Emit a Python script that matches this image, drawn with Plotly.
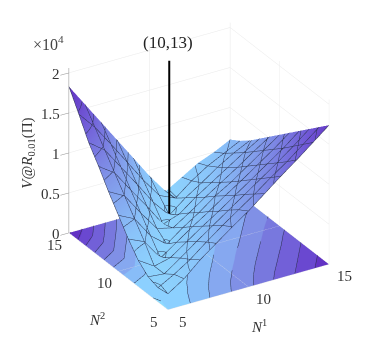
import plotly.graph_objects as go

N1 = [5, 6, 7, 8, 9, 10, 11, 12, 13, 14, 15]
N2 = [5, 6, 7, 8, 9, 10, 11, 12, 13, 14, 15]
# V@R in units of 1e4; rows follow N2, columns follow N1
V_BY_N1 = [
    [.20, .18, .22, .33, .50, .70, .90, 1.12, 1.32, 1.58, 1.83],
    [.33, .29, .20, .20, .41, .60, .79, .98, 1.17, 1.36, 1.55],
    [.51, .42, .34, .25, .15, .33, .52, .71, .90, 1.09, 1.27],
    [.66, .58, .49, .39, .29, .17, .27, .45, .63, .81, .99],
    [.81, .73, .63, .53, .43, .32, .22, .17, .35, .53, .71],
    [.95, .87, .77, .66, .56, .45, .35, .24, .13, .28, .43],
    [1.11, 1.01, .91, .80, .70, .60, .49, .39, .29, .19, .18],
    [1.27, 1.16, 1.05, .94, .83, .72, .62, .52, .42, .35, .30],
    [1.42, 1.30, 1.19, 1.08, .97, .86, .75, .65, .56, .48, .42],
    [1.58, 1.46, 1.34, 1.22, 1.11, 1.00, .89, .78, .68, .58, .50],
    [1.74, 1.62, 1.50, 1.38, 1.26, 1.14, 1.02, .90, .78, .68, .60],
]
V = [[V_BY_N1[i][j] for i in range(11)] for j in range(11)]
LEVELS = [.2, .4, .6, .8, 1.0, 1.2, 1.4, 1.6, 1.8]
BAND_COLORS = ["#8fdcff", "#8cd0ff", "#88bdf8", "#86a8f0", "#8090e6", "#7878de", "#7260d8", "#6a48d0", "#6232c4", "#5a1cb8"]
Z_TICKS = [0, .5, 1, 1.5, 2]
Z_LABELS = ["0", "0.5", "1", "1.5", "2"]
N_TICKS = [5, 10, 15]
OPT_N1, OPT_N2, OPT_Z, LINE_TOP = 10, 13, .13, 2.06
FONT = "Liberation Serif"

smooth = [[0, "#8fdcff"], [.25, "#8ac4fa"], [.5, "#8094e8"], [.75, "#7058d6"], [1, "#5c1fb8"]]
steps = []
edges = [0] + LEVELS + [2]
for k, c in enumerate(BAND_COLORS):
    steps += [[edges[k] / 2, c], [edges[k + 1] / 2, c]]


def contour_segments(level):
    xs, ys = [], []
    for j in range(10):
        for i in range(10):
            cell = [(N1[i], N2[j], V[j][i]), (N1[i + 1], N2[j], V[j][i + 1]),
                    (N1[i + 1], N2[j + 1], V[j + 1][i + 1]), (N1[i], N2[j + 1], V[j + 1][i])]
            pts = []
            for a, b in zip(cell, cell[1:] + cell[:1]):
                if (a[2] - level) * (b[2] - level) < 0:
                    t = (level - a[2]) / (b[2] - a[2])
                    pts.append((a[0] + t * (b[0] - a[0]), a[1] + t * (b[1] - a[1])))
            if len(pts) >= 2:
                xs += [pts[0][0], pts[1][0], None]
                ys += [pts[0][1], pts[1][1], None]
            if len(pts) == 4:
                xs += [pts[2][0], pts[3][0], None]
                ys += [pts[2][1], pts[3][1], None]
    return xs, ys


flat = dict(ambient=1, diffuse=0, specular=0, roughness=1, fresnel=0)
fig = go.Figure()
fig.add_surface(x=N1, y=N2, z=[[0] * 11 for _ in range(11)], surfacecolor=V, cmin=0, cmax=2,
                colorscale=steps, showscale=False, lighting=flat, hoverinfo="skip")
fig.add_surface(x=N1, y=N2, z=V, cmin=0, cmax=2, colorscale=smooth, showscale=False, lighting=flat,
                contours=dict(x=dict(show=True, start=5, end=15, size=1, color="#2c3350", width=1),
                              y=dict(show=True, start=5, end=15, size=1, color="#2c3350", width=1),
                              z=dict(show=True, start=.2, end=1.8, size=.2, color="#2c3350", width=1)))
cx, cy = [], []
for lv in LEVELS:
    a, b = contour_segments(lv)
    cx += a
    cy += b
fig.add_scatter3d(x=cx, y=cy, z=[0.004 if v is not None else None for v in cx], mode="lines",
                  line=dict(color="#2c3350", width=1), showlegend=False, hoverinfo="skip")
fig.add_scatter3d(x=[OPT_N1, OPT_N1], y=[OPT_N2, OPT_N2], z=[OPT_Z, LINE_TOP], mode="lines",
                  line=dict(color="black", width=4), showlegend=False, hoverinfo="skip")


def label(x, y, z, text, dx, dy, size=15, angle=0, color="#333"):
    return dict(x=x, y=y, z=z, text=text, showarrow=False, xshift=dx, yshift=-dy, textangle=angle,
                font=dict(family=FONT, size=size, color=color))


notes = []
for tv, lab in zip(Z_TICKS, Z_LABELS):
    notes.append(dict(label(5, 15, tv, lab, -7, 1), xanchor="right"))
for tv in N_TICKS:
    notes.append(label(tv, 5, 0, str(tv), 15, 12))
    notes.append(label(5, tv, 0, str(tv), -14, 12))
notes.append(label(10, 5, 0, "<i>N</i><sup>1</sup>", 11, 39, 15))
notes.append(label(5, 10, 0, "<i>N</i><sup>2</sup>", -21, 48, 15))
notes.append(label(5, 15, 1, "<i>V</i>@<i>R</i><sub>0.01</sub>(Π)", -41, 0, 15, -90))
notes.append(label(OPT_N1, OPT_N2, LINE_TOP, "(10,13)", -1, -18, 17, 0, "#222"))

common = dict(showbackground=False, gridcolor="#e8e8e8", gridwidth=1, zeroline=False, showspikes=False,
              showticklabels=False, ticks="", showline=False, title=dict(text=""))
fig.update_layout(
    width=382, height=344, margin=dict(l=0, r=0, t=0, b=0), paper_bgcolor="white", showlegend=False,
    font=dict(family=FONT, color="#333"),
    scene=dict(
        domain=dict(x=[0, 1], y=[8 / 344, 1]),
        aspectmode="manual", aspectratio=dict(x=1.12, y=1.142, z=1.11),
        camera=dict(projection=dict(type="orthographic"), eye=dict(x=-1.03, y=-1.71, z=.99),
                    center=dict(x=0, y=0, z=-.066), up=dict(x=0, y=0, z=1)),
        xaxis=dict(common, range=[5, 15], tickvals=N_TICKS),
        yaxis=dict(common, range=[5, 15], tickvals=N_TICKS),
        zaxis=dict(common, range=[0, LINE_TOP], tickvals=Z_TICKS, showline=True, linecolor="#8a8a8a", linewidth=1,
                   ticks="outside", ticklen=3, tickcolor="#8a8a8a"),
        annotations=notes,
    ),
    annotations=[dict(x=40 / 382, y=1 - 35 / 344, xref="paper", yref="paper", xanchor="center", yanchor="middle",
                      text="×10<sup>4</sup>", showarrow=False, font=dict(family=FONT, size=16, color="#444"))],
)
fig.write_html("out.html")
